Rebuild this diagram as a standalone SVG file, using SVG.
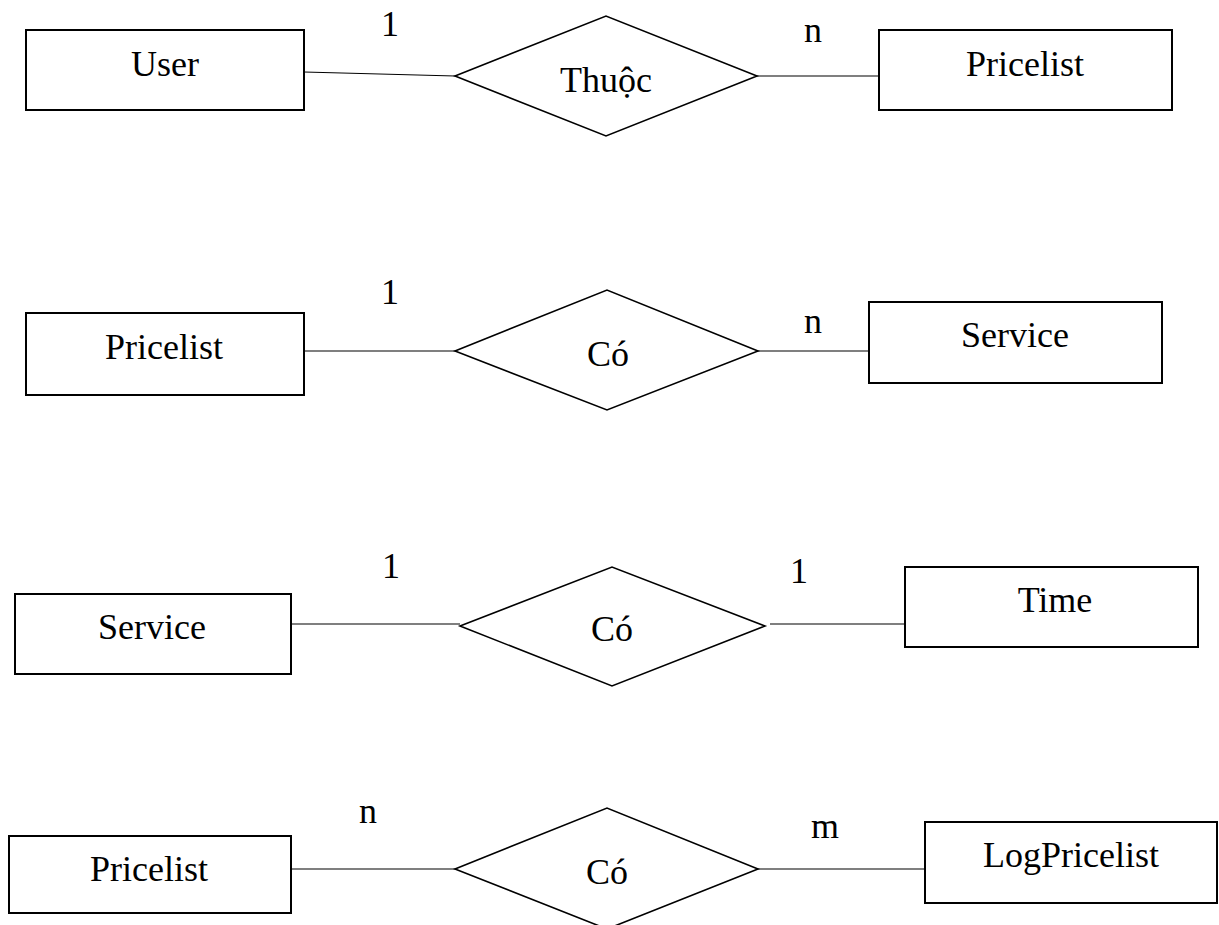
<svg xmlns="http://www.w3.org/2000/svg" width="1219" height="925" viewBox="0 0 1219 925">
<style>
.ent{fill:#fff;stroke:#000;stroke-width:2}
.rel{fill:#fff;stroke:#000;stroke-width:1.6}
.t{font-family:"Liberation Serif","Times New Roman",serif;font-size:36px;fill:#000;text-anchor:middle}
.c{stroke:#000;stroke-width:1.2;fill:none}
</style>
<rect width="1219" height="925" fill="#fff"/>
<g id="connectors">
<line class="c" x1="304" y1="72" x2="455" y2="76"/>
<line class="c" x1="757" y1="76" x2="879" y2="76"/>
<line class="c" x1="304" y1="351" x2="455" y2="351"/>
<line class="c" x1="758" y1="351" x2="869" y2="351"/>
<line class="c" x1="291" y1="624" x2="460" y2="624"/>
<line class="c" x1="770" y1="624" x2="905" y2="624"/>
<line class="c" x1="291" y1="869" x2="455" y2="869"/>
<line class="c" x1="758" y1="869" x2="925" y2="869"/>
<text class="t" x="390" y="36">1</text>
<text class="t" x="813" y="42">n</text>
<text class="t" x="390" y="304">1</text>
<text class="t" x="813" y="333">n</text>
<text class="t" x="391" y="578">1</text>
<text class="t" x="799" y="583">1</text>
<text class="t" x="368" y="823">n</text>
<text class="t" x="825" y="838">m</text>
</g>
<g id="user">
<rect class="ent" x="26" y="30" width="278" height="80"/>
<text class="t" x="165" y="76">User</text>
</g>
<g id="thuoc">
<polygon class="rel" points="455,76 606,16 757,76 606,136"/>
<text class="t" x="606" y="92">Thuộc</text>
</g>
<g id="pricelist1">
<rect class="ent" x="879" y="30" width="293" height="80"/>
<text class="t" x="1025" y="76">Pricelist</text>
</g>
<g id="pricelist2">
<rect class="ent" x="26" y="313" width="278" height="82"/>
<text class="t" x="164" y="359">Pricelist</text>
</g>
<g id="co1">
<polygon class="rel" points="455,351 607,290 758,351 607,410"/>
<text class="t" x="608" y="366">Có</text>
</g>
<g id="service1">
<rect class="ent" x="869" y="302" width="293" height="81"/>
<text class="t" x="1015" y="347">Service</text>
</g>
<g id="service2">
<rect class="ent" x="15" y="594" width="276" height="80"/>
<text class="t" x="152" y="639">Service</text>
</g>
<g id="co2">
<polygon class="rel" points="460,626 612,567 765,626 612,686"/>
<text class="t" x="612" y="641">Có</text>
</g>
<g id="time">
<rect class="ent" x="905" y="567" width="293" height="80"/>
<text class="t" x="1055" y="612">Time</text>
</g>
<g id="pricelist3">
<rect class="ent" x="9" y="836" width="282" height="77"/>
<text class="t" x="149" y="881">Pricelist</text>
</g>
<g id="co3">
<polygon class="rel" points="455,869 607,808 758,869 607,929"/>
<text class="t" x="607" y="884">Có</text>
</g>
<g id="logpricelist">
<rect class="ent" x="925" y="822" width="292" height="81"/>
<text class="t" x="1071" y="867">LogPricelist</text>
</g>
</svg>
